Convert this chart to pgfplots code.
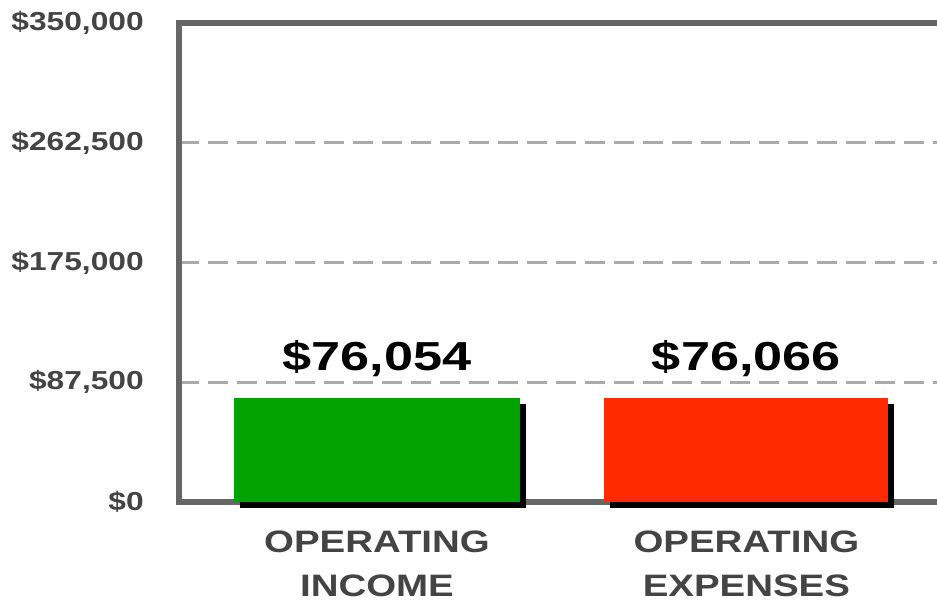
\documentclass[border=0pt]{standalone}
\usepackage{pgfplots}
\pgfplotsset{compat=1.18}
\usepackage{fontspec}
\setmainfont{Liberation Sans}
\usetikzlibrary{shadows}
\definecolor{axisgray}{HTML}{666666}
\definecolor{gridgray}{HTML}{AAAAAA}
\definecolor{labgray}{HTML}{444444}
\definecolor{incgreen}{HTML}{00A300}
\definecolor{expred}{HTML}{FF2A00}
\begin{document}
\begin{tikzpicture}[x=1pt,y=1pt]
\path[use as bounding box] (0,0) rectangle (937,611);
\begin{axis}[
  at={(179pt,109pt)}, anchor=south west,
  scale only axis, width=758pt, height=479pt,
  xmin=-0.536, xmax=1.516, ymin=0, ymax=350000,
  clip=false,
  scaled y ticks=false,
  axis x line=box, axis y line=left,
  axis line style={-, axisgray, line width=5.5pt, line cap=rect},
  major tick length=0pt,
  ytick={0,87500,175000,262500,350000},
  yticklabels={{\$0},{\$87,500},{\$175,000},{\$262,500},{\$350,000}},
  ymajorgrids,
  grid style={gridgray, line width=3pt, dash pattern=on 20pt off 9pt},
  yticklabel style={font=\fontsize{26}{30}\selectfont\bfseries, text=labgray, anchor=east, inner sep=0pt, xshift=-35pt, xscale=1.22},
  xtick={0,1},
  xticklabels={{OPERATING\\INCOME},{OPERATING\\EXPENSES}},
  xticklabel style={font=\fontsize{31}{44}\selectfont\bfseries, text=labgray, align=center, anchor=north, inner sep=0pt, yshift=-29pt, xscale=1.24},
  /pgf/number format/assume math mode=true,
  ybar, bar shift=0pt,
  nodes near coords={\$\pgfmathprintnumber[fixed,precision=0,1000 sep={,}]{\pgfplotspointmeta}},
  every node near coord/.append style={font=\fontsize{40.5}{44}\selectfont\bfseries, text=black, anchor=base, inner sep=0pt, yshift=27pt, xscale=1.29},
]
\addplot[fill=incgreen, draw=none, bar width=286pt,
  drop shadow={shadow xshift=6pt, shadow yshift=-6pt, fill=black, opacity=1}]
  coordinates {(0,76054)};
\addplot[fill=expred, draw=none, bar width=284pt,
  drop shadow={shadow xshift=6pt, shadow yshift=-6pt, fill=black, opacity=1}]
  coordinates {(1,76066)};
\end{axis}
\end{tikzpicture}
\end{document}
